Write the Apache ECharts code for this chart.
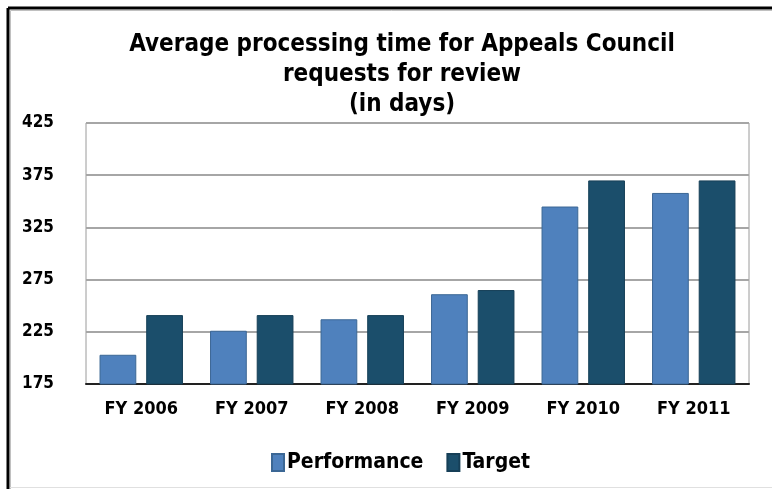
<!DOCTYPE html>
<html><head><meta charset="utf-8">
<script src="https://cdn.jsdelivr.net/npm/echarts@6/dist/echarts.min.js"></script>
<style>html,body{margin:0;padding:0;background:#fff}#c{width:772px;height:489px}</style>
</head><body><div id="c"></div>
<script>
const categories = ['FY 2006','FY 2007','FY 2008','FY 2009','FY 2010','FY 2011'];
const performance = [203, 226, 237, 261, 345, 358];
const target = [241, 241, 241, 265, 370, 370];
const seriesNames = ['Performance','Target'];
const yTicks = [175, 225, 275, 325, 375, 425];

const chart = echarts.init(document.getElementById('c'));
const FONT = '"DejaVu Sans Condensed","Liberation Sans",Arial,sans-serif';
chart.setOption({
  animation: false,
  backgroundColor: '#fff',
  title: {
    text: 'Average processing time for Appeals Council\nrequests for review\n(in days)',
    left: 397, top: 25, textAlign: 'center',
    textStyle: { fontFamily: FONT, fontWeight: 'bold', fontSize: 24, lineHeight: 30, color: '#000' }
  },
  graphic: [
    { type: 'line', shape: { x1: 8, y1: 8, x2: 772, y2: 8 }, style: { stroke: '#000', lineWidth: 3 } },
    { type: 'line', shape: { x1: 8, y1: 8, x2: 8, y2: 489 }, style: { stroke: '#000', lineWidth: 3 } },
    { type: 'line', shape: { x1: 10.5, y1: 10.5, x2: 772, y2: 10.5 }, style: { stroke: '#c0c0c0', lineWidth: 1 } },
    { type: 'line', shape: { x1: 10.5, y1: 10.5, x2: 10.5, y2: 489 }, style: { stroke: '#c0c0c0', lineWidth: 1 } },
    { type: 'line', shape: { x1: 10, y1: 487.5, x2: 772, y2: 487.5 }, style: { stroke: '#e0e0e0', lineWidth: 1 } }
  ],
  legend: {
    data: seriesNames, bottom: 11, left: 266, icon: 'rect',
    itemWidth: 12, itemHeight: 17, itemGap: 23,
    textStyle: { fontFamily: FONT, fontWeight: 'bold', fontSize: 21, color: '#000', padding: [0,0,0,-2] }
  },
  grid: { left: 86, right: 23, top: 123, bottom: 105, show: true, borderColor: '#9a9a9a', borderWidth: 1 },
  xAxis: {
    type: 'category', data: categories,
    axisLine: { lineStyle: { color: '#222', width: 2 } },
    axisTick: { show: false },
    axisLabel: { fontFamily: FONT, fontWeight: 'bold', fontSize: 18, color: '#000', margin: 16 }
  },
  yAxis: {
    type: 'value', min: yTicks[0], max: yTicks[yTicks.length-1], interval: 50,
    axisLine: { show: false }, axisTick: { show: false },
    splitLine: { lineStyle: { color: '#a6a6a6', width: 2 } },
    axisLabel: { fontFamily: FONT, fontWeight: 'bold', fontSize: 17, color: '#000', margin: 64, align: 'left' }
  },
  series: [
    { name: seriesNames[0], type: 'bar', data: performance, barGap: '27%', barCategoryGap: '24.5%',
      itemStyle: { color: '#4f81bd', borderColor: '#3b6795', borderWidth: 1 } },
    { name: seriesNames[1], type: 'bar', data: target,
      itemStyle: { color: '#1b4e6b', borderColor: '#163f57', borderWidth: 1 } }
  ]
});
</script></body></html>
